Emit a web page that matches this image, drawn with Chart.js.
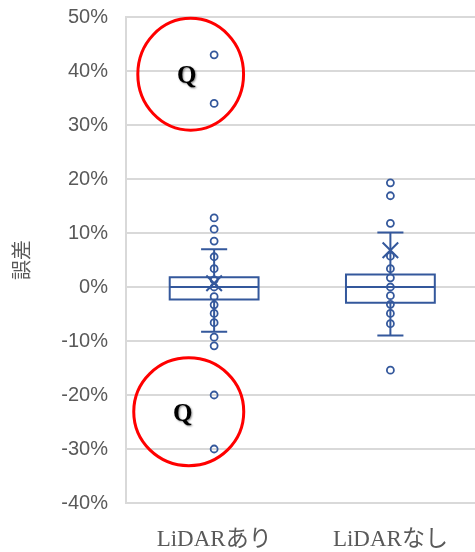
<!DOCTYPE html>
<html>
<head>
<meta charset="utf-8">
<script src="https://cdn.jsdelivr.net/npm/chart.js@4.4.1/dist/chart.umd.min.js"></script>
<style>
  html, body { margin: 0; padding: 0; background: #ffffff; overflow: hidden; }
  #wrap { width: 475px; height: 552px; overflow: hidden; }
</style>
</head>
<body>
<div id="wrap"><canvas id="c" width="488" height="552"></canvas></div>
<script>
// Categories and box statistics (errors as fractions)
const categories = ['LiDARあり', 'LiDARなし'];
const boxQ1       = [-0.023, -0.029];
const boxMedian   = [0.000, 0.000];
const boxQ3       = [0.018, 0.023];
const whiskerLow  = [-0.083, -0.090];
const whiskerHigh = [0.070, 0.101];
const means       = [0.007, 0.068];

// Individual observations shown as circles
const pointsWith = [0.43, 0.34, 0.128, 0.107, 0.085, 0.056, 0.034, 0.013, 0.000,
                    -0.018, -0.033, -0.049, -0.066, -0.093, -0.109, -0.20, -0.30];
const pointsWithout = [0.193, 0.169, 0.118, 0.057, 0.034, 0.017, 0.000,
                       -0.016, -0.032, -0.049, -0.068, -0.154];

// Y axis tick settings
const yMin = -0.4, yMax = 0.5, yStep = 0.1;

const BLUE = '#34589C';
const GRID = '#D9D9D9';
const TEXT = '#595959';

// Highlight marks (ellipse centre / radii in axis units) with a "Q" label
const highlights = [
  { cx: 0.867, cy: 0.394, rx: 0.30, ry: 0.1035, label: 'Q', lx: 0.844, ly: 0.390 },
  { cx: 0.856, cy: -0.231, rx: 0.312, ry: 0.0998, label: 'Q', lx: 0.822, ly: -0.237 }
];

const toXY = (arr, idx) => arr.map(v => ({ x: idx + 1, y: v }));

// Draws boxes, medians and whiskers from the statistics arrays
const boxPlugin = {
  id: 'boxes',
  beforeDatasetsDraw(chart) {
    const { ctx, scales: { x, y } } = chart;
    const half = 0.252, cap = 0.074;
    ctx.save();
    ctx.strokeStyle = BLUE;
    ctx.lineWidth = 2;
    categories.forEach((_, i) => {
      const c = i + 1;
      const xl = x.getPixelForValue(c - half), xr = x.getPixelForValue(c + half);
      const xc = x.getPixelForValue(c);
      const cl = x.getPixelForValue(c - cap), cr = x.getPixelForValue(c + cap);
      const yq1 = y.getPixelForValue(boxQ1[i]), yq3 = y.getPixelForValue(boxQ3[i]);
      const ym = y.getPixelForValue(boxMedian[i]);
      const ylo = y.getPixelForValue(whiskerLow[i]), yhi = y.getPixelForValue(whiskerHigh[i]);
      ctx.beginPath();
      // box
      ctx.rect(xl, yq3, xr - xl, yq1 - yq3);
      // median
      ctx.moveTo(xl, ym); ctx.lineTo(xr, ym);
      // whiskers
      ctx.moveTo(xc, yq3); ctx.lineTo(xc, yhi);
      ctx.moveTo(xc, yq1); ctx.lineTo(xc, ylo);
      // caps
      ctx.moveTo(cl, yhi); ctx.lineTo(cr, yhi);
      ctx.moveTo(cl, ylo); ctx.lineTo(cr, ylo);
      ctx.stroke();
    });
    ctx.restore();
  },
  afterDatasetsDraw(chart) {
    const { ctx, scales: { x, y } } = chart;
    ctx.save();
    highlights.forEach(h => {
      const cx = x.getPixelForValue(h.cx), cy = y.getPixelForValue(h.cy);
      const rx = Math.abs(x.getPixelForValue(h.cx + h.rx) - cx);
      const ry = Math.abs(y.getPixelForValue(h.cy + h.ry) - cy);
      ctx.beginPath();
      ctx.ellipse(cx, cy, rx, ry, 0, 0, Math.PI * 2);
      ctx.strokeStyle = '#FF0000';
      ctx.lineWidth = 3;
      ctx.stroke();
      ctx.save();
      ctx.font = 'bold 25px "Liberation Serif", "DejaVu Serif", serif';
      ctx.fillStyle = '#000000';
      ctx.textAlign = 'center';
      ctx.textBaseline = 'middle';
      ctx.shadowColor = 'rgba(0,0,0,0.45)';
      ctx.shadowBlur = 2;
      ctx.shadowOffsetX = 1;
      ctx.shadowOffsetY = 1;
      ctx.fillText(h.label, x.getPixelForValue(h.lx), y.getPixelForValue(h.ly));
      ctx.restore();
    });
    ctx.restore();
  }
};

new Chart(document.getElementById('c'), {
  type: 'scatter',
  data: {
    datasets: [
      {
        label: categories[0],
        data: toXY(pointsWith, 0),
        pointStyle: 'circle',
        pointRadius: 3.5,
        pointBorderWidth: 1.8,
        pointBorderColor: BLUE,
        pointBackgroundColor: 'rgba(0,0,0,0)'
      },
      {
        label: categories[1],
        data: toXY(pointsWithout, 1),
        pointStyle: 'circle',
        pointRadius: 3.5,
        pointBorderWidth: 1.8,
        pointBorderColor: BLUE,
        pointBackgroundColor: 'rgba(0,0,0,0)'
      },
      {
        label: '平均',
        data: means.map((m, i) => ({ x: i + 1, y: m })),
        pointStyle: 'crossRot',
        pointRadius: 11,
        pointBorderWidth: 2,
        pointBorderColor: BLUE
      }
    ]
  },
  options: {
    responsive: false,
    animation: false,
    devicePixelRatio: 1,
    layout: { padding: { top: 17, right: 0, bottom: 0, left: 0 } },
    plugins: {
      legend: { display: false },
      tooltip: { enabled: false }
    },
    scales: {
      x: {
        type: 'linear',
        min: 0.5,
        max: 2.48,
        afterBuildTicks(scale) {
          scale.ticks = categories.map((_, i) => ({ value: i + 1 }));
        },
        afterFit(scale) {
          scale.height = 49;
          scale.paddingLeft = 0;
          scale.paddingRight = 0;
        },
        grid: { display: false, drawTicks: false },
        border: { display: false },
        ticks: {
          padding: 23,
          color: TEXT,
          font: { family: '"Liberation Serif", "Noto Sans CJK JP", serif', size: 23 },
          callback: (v) => categories[Math.round(v) - 1] || ''
        }
      },
      y: {
        min: yMin,
        max: yMax,
        afterFit(scale) {
          scale.width = 126;
          scale.paddingTop = 0;
          scale.paddingBottom = 0;
        },
        grid: { color: GRID, lineWidth: 2, drawTicks: false },
        border: { display: true, color: GRID, width: 2 },
        ticks: {
          stepSize: yStep,
          padding: 18,
          color: TEXT,
          font: { family: '"Liberation Sans", Arial, sans-serif', size: 20 },
          callback: (v) => Math.round(v * 100) + '%'
        },
        title: {
          display: true,
          text: '誤差',
          color: TEXT,
          padding: { top: 9, bottom: 0 },
          font: { family: '"Noto Sans CJK JP", sans-serif', size: 20 }
        }
      }
    }
  },
  plugins: [boxPlugin]
});
</script>
</body>
</html>
